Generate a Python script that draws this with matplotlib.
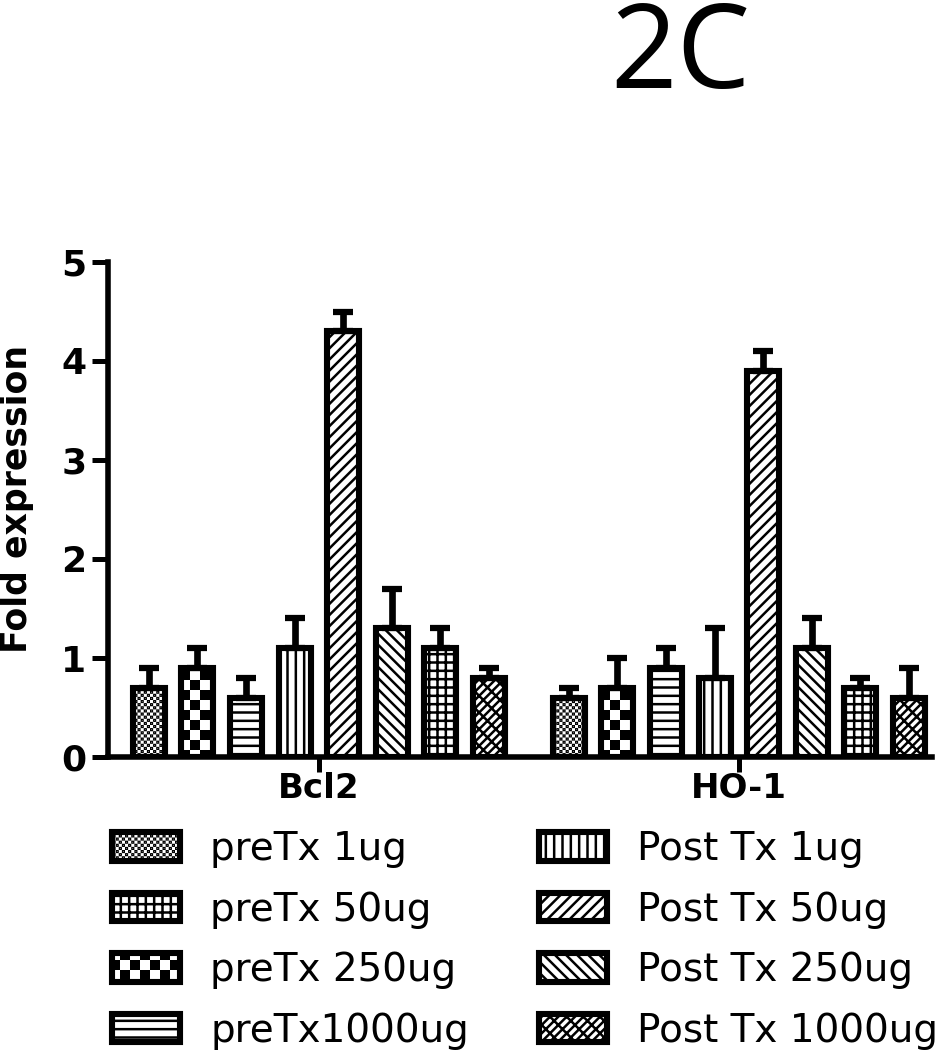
import numpy as np
import matplotlib
matplotlib.use('Agg')
import matplotlib.pyplot as plt
from matplotlib import hatch as mhatch
from matplotlib.path import Path

genes = ['Bcl2', 'HO-1']

# series in the order the bars sit inside each gene group
series = ['preTx 1ug', 'preTx 250ug', 'preTx1000ug', 'Post Tx 1ug',
          'Post Tx 50ug', 'Post Tx 250ug', 'preTx 50ug', 'Post Tx 1000ug']
bcl2_mean = [0.7, 0.9, 0.6, 1.1, 4.3, 1.3, 1.1, 0.8]
bcl2_err = [0.2, 0.2, 0.2, 0.3, 0.2, 0.4, 0.2, 0.1]
ho1_mean = [0.6, 0.7, 0.9, 0.8, 3.9, 1.1, 0.7, 0.6]
ho1_err = [0.1, 0.3, 0.2, 0.5, 0.2, 0.3, 0.1, 0.3]

legend_order = ['preTx 1ug', 'preTx 50ug', 'preTx 250ug', 'preTx1000ug',
                'Post Tx 1ug', 'Post Tx 50ug', 'Post Tx 250ug', 'Post Tx 1000ug']

hatches = {
    'preTx 1ug': 'o',          # fine checker (custom below)
    'preTx 250ug': 'O',        # coarse checker (custom below)
    'preTx1000ug': '--',
    'Post Tx 1ug': '||',
    'Post Tx 50ug': '///',
    'Post Tx 250ug': '\\\\\\',
    'preTx 50ug': '++',
    'Post Tx 1000ug': '////\\\\',
}

HATCH_LW = 1.8


# --- checkerboard hatch, replaces the circle hatches 'o' / 'O' ---
class Checker(mhatch.HatchPatternBase):
    def __init__(self, hatch, density):
        if hatch.count('o'):
            half = int(round(hatch.count('o') * density * 8 / 3))
        else:
            half = int(round(hatch.count('O') * density * 5 / 6))
        self.cells = 2 * half
        self.num_vertices = 5 * self.cells * self.cells // 2

    def set_vertices_and_codes(self, vertices, codes):
        step = 1.0 / self.cells
        inset = HATCH_LW / 72 / 2
        side = max(step - 2 * inset, 0.001)
        sq = np.array([[0, 0], [1, 0], [1, 1], [0, 1], [0, 0]]) * side + inset
        k = 0
        for i in range(self.cells):
            for j in range(self.cells):
                if (i + j) % 2:
                    continue
                vertices[k:k + 5] = sq + [i * step, j * step]
                codes[k:k + 5] = [Path.MOVETO, Path.LINETO, Path.LINETO,
                                  Path.LINETO, Path.CLOSEPOLY]
                k += 5


mhatch._hatch_types[:] = [h for h in mhatch._hatch_types
                          if h not in (mhatch.SmallCircles, mhatch.LargeCircles)] + [Checker]

plt.rcParams['hatch.linewidth'] = HATCH_LW
plt.rcParams['font.family'] = ['DejaVu Sans']

fig = plt.figure(figsize=(9.53, 10.5), dpi=100)
ax = fig.add_axes([108 / 953, 1 - 757 / 1050, 824 / 953, 495 / 1050])

x = np.arange(len(genes))
pitch = 0.1157
width = 0.0762
bars = {}
for k, name in enumerate(series):
    vals = [bcl2_mean[k], ho1_mean[k]]
    errs = [bcl2_err[k], ho1_err[k]]
    bars[name] = ax.bar(x + (k - 3.5) * pitch, vals, width,
                        yerr=[np.zeros(2), errs],
                        color='white', edgecolor='black', linewidth=4.4,
                        hatch=hatches[name], label=name,
                        error_kw=dict(ecolor='black', elinewidth=4.8,
                                      capsize=7.5, capthick=4.5))

ax.set_xlim(-0.502, 1.46)
ax.set_ylim(0, 5)
ax.set_yticks(range(6))
ax.set_xticks(x)
ax.set_xticklabels(genes, fontsize=24.5, fontweight='bold')
for lab in ax.get_yticklabels():
    lab.set_fontsize(26)
    lab.set_fontweight('bold')
ax.tick_params(axis='y', length=11.5, width=3.6, pad=4)
ax.tick_params(axis='x', length=11, width=3.6, pad=0)

for s in ['top', 'right']:
    ax.spines[s].set_visible(False)
for s in ['left', 'bottom']:
    ax.spines[s].set_linewidth(4)

ax.set_ylabel('Fold expression', fontsize=25, fontweight='bold', va='center')
ax.yaxis.set_label_coords(-0.110, 0.521)

fig.text(680 / 953, 1 - 88 / 1050, '2C', fontsize=84, family='Open Sans',
         ha='center', va='baseline')

fig.legend([bars[n] for n in legend_order], legend_order,
           loc='upper left', bbox_to_anchor=(112 / 953, 1 - 830 / 1050),
           ncol=2, frameon=False, fontsize=28, handlelength=1.75,
           handleheight=0.75, handletextpad=0.77, columnspacing=1.8,
           labelspacing=0.58, borderpad=0, borderaxespad=0)

fig.savefig('out.png', dpi=100)
